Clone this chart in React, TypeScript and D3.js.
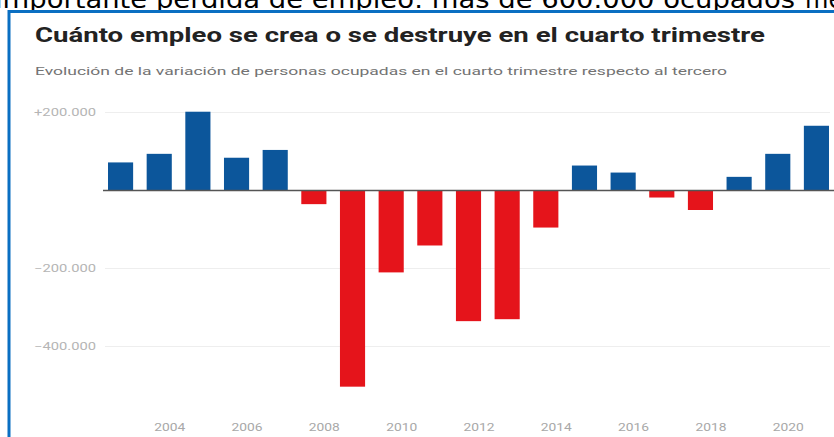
import React from "react";
import * as d3 from "d3";

const years = [2003, 2004, 2005, 2006, 2007, 2008, 2009, 2010, 2011, 2012, 2013, 2014, 2015, 2016, 2017, 2018, 2019, 2020, 2021];
const values = [72000, 94000, 202000, 84000, 104000, -35000, -503000, -210000, -141000, -335000, -330000, -95000, 64000, 46000, -18000, -50000, 35000, 94000, 166000];
const yTicks = [200000, -200000, -400000];
const yTickLabels = ["+200.000", "−200.000", "−400.000"];
const xTickYears = [2004, 2006, 2008, 2010, 2012, 2014, 2016, 2018, 2020];

const W = 834;
const H = 437;

export default function App() {
  const x = d3.scaleBand<number>().domain(years).range([108, 829]).paddingInner(0.35).paddingOuter(0);
  const y = d3.scaleLinear().domain([-400000, 200000]).range([346.5, 112.5]);
  const blue = "#0c569b";
  const red = "#e5141b";
  return (
    <svg width={W} height={H} style={{ position: "absolute", left: 0, top: 0, background: "#fff" }}>
      <text x={-5} y={8} fontFamily="DejaVu Sans" fontSize={24} fill="#000" textLength={800} lengthAdjust="spacingAndGlyphs">
        importante pérdida de empleo: más de 600.000 ocupados
      </text>
      <text x={805} y={8} fontFamily="DejaVu Sans" fontSize={24} fill="#000">menos</text>
      <rect x={9} y={11.5} width={W + 10} height={H} fill="#fff" stroke="#0a6fc2" strokeWidth={3} />
      <text x={35} y={42} fontFamily="Roboto" fontWeight={700} fontSize={21} fill="#222" textLength={730} lengthAdjust="spacingAndGlyphs">
        Cuánto empleo se crea o se destruye en el cuarto trimestre
      </text>
      <text x={35} y={75} fontFamily="Roboto" fontSize={11.5} fill="#737373" textLength={692} lengthAdjust="spacingAndGlyphs">
        Evolución de la variación de personas ocupadas en el cuarto trimestre respecto al tercero
      </text>
      {yTicks.map((t, i) => (
        <g key={t}>
          <line x1={105} x2={830} y1={y(t)} y2={y(t)} stroke="#eeeeee" strokeWidth={1} />
          <text x={96} y={y(t) + 3.5} textAnchor="end" fontFamily="Roboto" fontSize={10} fill="#b5b5b5" textLength={62} lengthAdjust="spacingAndGlyphs">
            {yTickLabels[i]}
          </text>
        </g>
      ))}
      {years.map((yr, i) => {
        const v = values[i];
        const y0 = y(0);
        const y1 = y(v);
        return (
          <rect key={yr} x={x(yr)} width={x.bandwidth()} y={Math.min(y0, y1)} height={Math.abs(y1 - y0)} fill={v >= 0 ? blue : red} />
        );
      })}
      <line x1={103} x2={W} y1={y(0)} y2={y(0)} stroke="#555" strokeWidth={1.5} />
      {xTickYears.map((yr) => (
        <text key={yr} x={(x(yr) as number) + x.bandwidth() / 2 + 10.5} y={431} textAnchor="middle" fontFamily="Roboto" fontSize={10} fill="#a8a8a8" textLength={31} lengthAdjust="spacingAndGlyphs">
          {yr}
        </text>
      ))}
    </svg>
  );
}
